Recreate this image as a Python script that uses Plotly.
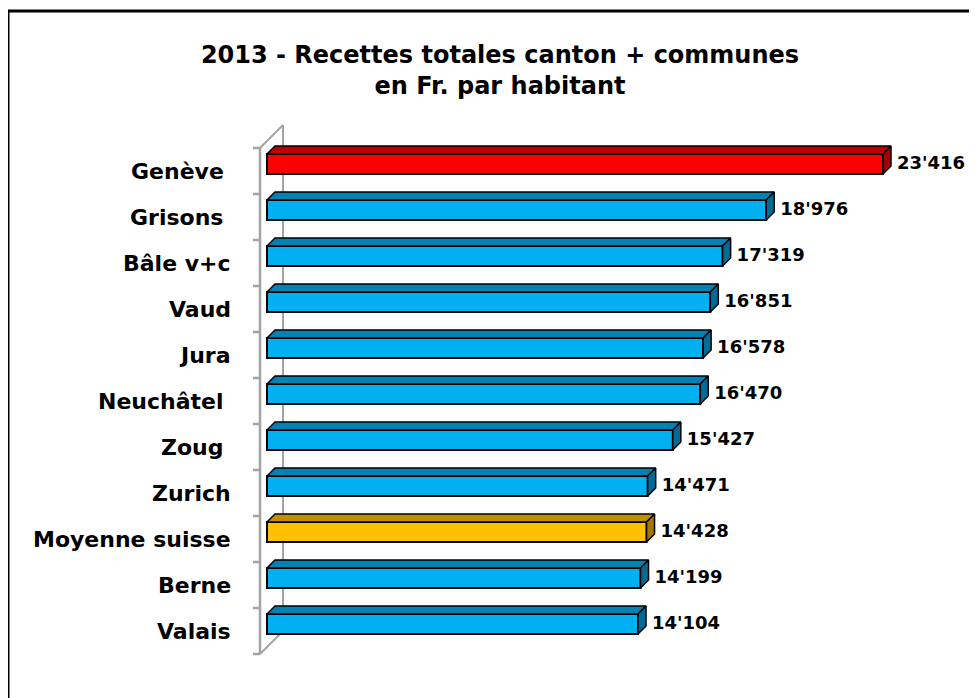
import plotly.graph_objects as go

W, H = 977, 698
OFF = 8   # the page body margin pushes the figure 8px right and down

# data, top to bottom
cantons = ["Genève ", "Grisons ", "Bâle v+c", "Vaud", "Jura", "Neuchâtel ",
           "Zoug ", "Zurich", "Moyenne suisse", "Berne", "Valais"]
recettes = [23416, 18976, 17319, 16851, 16578, 16470, 15427, 14471, 14428, 14199, 14104]

title = "2013 - Recettes totales canton + communes<br>en Fr. par habitant"

# styling: (front, top, side) colours
BLUE = ("#00B0F0", "#0082B4", "#006C96")
SPECIAL = {
    "Genève": ("#FF0000", "#C00000", "#A00000"),
    "Moyenne suisse": ("#FFC000", "#C09000", "#A07800"),
}
FONT = "DejaVu Sans"
WALL = "#a3a3a3"

# pixel geometry of the fake 3d frame (screen pixels)
PL, PR, PT, PB = 250, 967, 118, 662   # plot area
X0 = 260                               # pixel of value 0 on the front plane
PXU = 616 / 23416                      # pixels per franc
ROW = 46                               # pixels per category
Y0 = 631                               # pixel of centre of the bottom row


def dx(px):
    return px / PXU


def dy(px):
    return px / ROW


def px_paper_x(p):
    return (p - PL) / (PR - PL)


def px_paper_y(p):
    return (PB - p) / (PB - PT)


n = len(cantons)
ypos = [n - 1 - i for i in range(n)]
colors = [SPECIAL.get(c.strip(), BLUE) for c in cantons]

BAR_OFF = 7     # bar front face sits 7px behind the front plane
BAR_H = 20
DEPTH = 8
WALL_D = 23

fig = go.Figure()

# front faces
fig.add_trace(go.Bar(
    y=[y + dy(BAR_OFF) for y in ypos],
    x=recettes,
    base=dx(BAR_OFF),
    orientation='h',
    width=dy(BAR_H),
    marker=dict(color=[c[0] for c in colors], line=dict(color='black', width=2)),
    hoverinfo='skip',
))

# top and side faces
for y, v, col in zip(ypos, recettes, colors):
    x0 = dx(BAR_OFF)
    x1 = x0 + v
    yt = y + dy(BAR_OFF) + dy(BAR_H / 2)
    yb = yt - dy(BAR_H)
    ddx, ddy = dx(DEPTH), dy(DEPTH)
    fig.add_trace(go.Scatter(
        x=[x0, x1, x1 + ddx, x0 + ddx, x0],
        y=[yt, yt, yt + ddy, yt + ddy, yt],
        fill='toself', fillcolor=col[1], mode='lines',
        line=dict(color='black', width=1.5), hoverinfo='skip',
    ))
    fig.add_trace(go.Scatter(
        x=[x1, x1 + ddx, x1 + ddx, x1, x1],
        y=[yt, yt + ddy, yb + ddy, yb, yt],
        fill='toself', fillcolor=col[2], mode='lines',
        line=dict(color='black', width=1.5), hoverinfo='skip',
    ))

# value labels
fig.add_trace(go.Scatter(
    x=[dx(BAR_OFF) + v + dx(DEPTH) + dx(6) for v in recettes],
    y=[y + dy(BAR_OFF) for y in ypos],
    text=[f"{v:,}".replace(",", "'") for v in recettes],
    mode='text', textposition='middle right',
    textfont=dict(family=FONT, size=18, color='black', weight='bold'),
    cliponaxis=False, hoverinfo='skip',
))

# walls of the 3d frame
shapes = []
ybot, ytop = -0.5, n - 0.5
shapes.append(dict(type='line', xref='x', yref='y', x0=0, x1=0, y0=ybot, y1=ytop,
                   line=dict(color=WALL, width=2.5), layer='below'))
shapes.append(dict(type='line', xref='x', yref='y', x0=dx(WALL_D), x1=dx(WALL_D),
                   y0=ybot + dy(WALL_D), y1=ytop + dy(WALL_D),
                   line=dict(color=WALL, width=2), layer='below'))
for yy in (ybot, ytop):
    shapes.append(dict(type='line', xref='x', yref='y', x0=0, x1=dx(WALL_D),
                       y0=yy, y1=yy + dy(WALL_D),
                       line=dict(color=WALL, width=2), layer='below'))
for k in range(n + 1):
    shapes.append(dict(type='line', xref='x', yref='y', x0=dx(-7), x1=0,
                       y0=k - 0.5, y1=k - 0.5,
                       line=dict(color=WALL, width=2.5), layer='below'))

# outer frame of the picture
shapes.append(dict(type='rect', xref='paper', yref='paper',
                   x0=px_paper_x(8), x1=px_paper_x(W + 20),
                   y0=px_paper_y(H + 20), y1=px_paper_y(11),
                   line=dict(color='black', width=3), layer='above'))

# category labels
annotations = [
    dict(x=px_paper_x(233), y=y, xref='paper', yref='y', text=c.replace(" ", "\u00a0"),
         xanchor='right', yanchor='middle', showarrow=False,
         font=dict(family=FONT, size=22, color='black', weight='bold'))
    for y, c in zip(ypos, cantons)
]

FW, FH = W - OFF, H - OFF
fig.update_layout(
    width=FW, height=FH,
    margin=dict(l=PL - OFF, r=W - PR, t=PT - OFF, b=H - PB),
    paper_bgcolor='white', plot_bgcolor='white',
    showlegend=False,
    title=dict(text=title, x=(500 - OFF) / FW, xanchor='center', xref='container',
               y=1 - 55 / FH, yanchor='top', yref='container',
               font=dict(family=FONT, size=24, color='black', weight='bold')),
    xaxis=dict(range=[dx(PL - X0), dx(PR - X0)], visible=False),
    yaxis=dict(range=[dy(Y0 - PB), dy(Y0 - PT)], visible=False),
    shapes=shapes,
    annotations=annotations,
)

fig.write_html("out.html")
